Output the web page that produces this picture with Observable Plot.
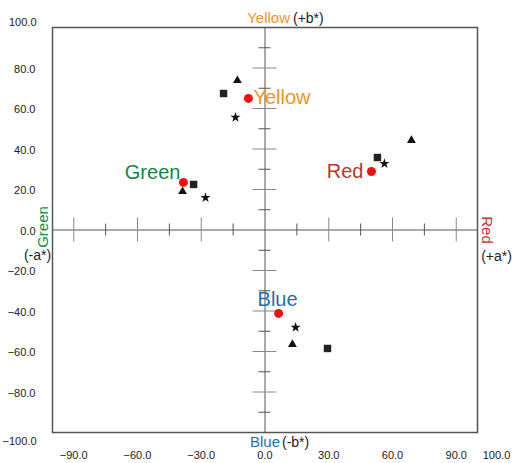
<!DOCTYPE html>
<html><head><meta charset="utf-8">
<script src="https://cdn.jsdelivr.net/npm/d3@7"></script>
<script src="https://cdn.jsdelivr.net/npm/@observablehq/plot@0.6"></script>
<style>body{margin:0;background:#fff}</style>
</head><body><div id="chart"></div>
<script>
const colorNames = ["Yellow", "Green", "Red", "Blue"];
const labelColors = ["#f7931e", "#0e8a44", "#c9302c", "#1b70b0"];
const circleA = [-7.8, -38.4, 50.1, 6.4];
const circleB = [65.0, 23.5, 28.9, -41.2];
const squareA = [-19.5, -33.6, 52.9, 29.4];
const squareB = [67.4, 22.5, 35.8, -58.5];
const triangleA = [-13.0, -38.8, 68.9, 12.9];
const triangleB = [73.8, 19.0, 44.2, -56.5];
const starA = [-13.9, -28.0, 56.2, 14.4];
const starB = [55.6, 16.0, 32.8, -48.1];
const xTickLabels = [-90, -60, -30, 0, 30, 60, 90];
const yTickLabels = [80, 60, 40, 20, 0, -20, -40, -60, -80];
const longTicksA = [-90, -60, -30, 30, 60, 90];
const shortTicksA = [-75, -45, -15, 15, 45, 75];
const longTicksB = [-80, -60, -40, -20, 20, 40, 60, 80];
const shortTicksB = [-90, -70, -50, -30, -10, 10, 30, 50, 70, 90];

const fmt = v => (v < 0 ? "\u2212" : "") + Math.abs(v).toFixed(1);
const idx = d3.range(colorNames.length);
const tickFont = 11;

const labelMark = (i, opts) => Plot.text([i], {
  x: j => circleA[j], y: j => circleB[j], text: j => colorNames[j],
  fill: labelColors[i], fontSize: 20, ...opts
});

const chart = Plot.plot({
  width: 513, height: 463,
  marginLeft: 52, marginRight: 36, marginTop: 27, marginBottom: 31,
  x: {domain: [-100, 100], axis: null},
  y: {domain: [-100, 100], axis: null},
  style: {fontFamily: "'Liberation Sans', Arial, sans-serif", background: "white", color: "#222"},
  marks: [
    Plot.ruleX([0], {stroke: "#555", strokeWidth: 1}),
    Plot.ruleY([0], {stroke: "#555", strokeWidth: 1}),
    Plot.ruleX(longTicksA, {x: d => d, y1: 0, y2: 0, insetTop: -12, insetBottom: -12, stroke: "#888"}),
    Plot.ruleX(shortTicksA, {x: d => d, y1: 0, y2: 0, insetTop: -6, insetBottom: -6, stroke: "#555"}),
    Plot.ruleY(longTicksB, {y: d => d, x1: 0, x2: 0, insetLeft: -12, insetRight: -12, stroke: "#888"}),
    Plot.ruleY(shortTicksB, {y: d => d, x1: 0, x2: 0, insetLeft: -6, insetRight: -6, stroke: "#555"}),
    Plot.frame({stroke: "#555", strokeWidth: 1.5}),
    Plot.dot(idx, {x: i => squareA[i], y: i => squareB[i], symbol: "square", r: 4.2, fill: "#222", stroke: "none"}),
    Plot.dot(idx, {x: i => triangleA[i], y: i => triangleB[i], symbol: "triangle", r: 3.3, fill: "#111", stroke: "none"}),
    Plot.dot(idx, {x: i => starA[i], y: i => starB[i], symbol: "star", r: 3.2, fill: "#111", stroke: "none"}),
    Plot.dot(idx, {x: i => circleA[i], y: i => circleB[i], symbol: "circle", r: 4.5, fill: "#f01010", stroke: "none"}),
    labelMark(0, {textAnchor: "start", dx: 5, dy: -1}),
    labelMark(1, {textAnchor: "end", dx: -3, dy: -10}),
    labelMark(2, {textAnchor: "end", dx: -8, dy: 0}),
    labelMark(3, {textAnchor: "middle", dx: -1, dy: -14}),
    // tick labels
    Plot.text(yTickLabels, {x: -100, y: d => d, text: fmt, textAnchor: "end", dx: -17, dy: 1, fontSize: tickFont}),
    Plot.text([100], {x: -100, y: d => d, text: fmt, textAnchor: "end", dx: -16, dy: -5, fontSize: tickFont}),
    Plot.text([-100], {x: -100, y: d => d, text: fmt, textAnchor: "end", dx: -16, dy: 9, fontSize: tickFont}),
    Plot.text(xTickLabels, {x: d => d, y: -100, text: fmt, dy: 23, fontSize: tickFont}),
    Plot.text([100], {x: d => d, y: -100, text: fmt, dx: 19, dy: 23, fontSize: tickFont}),
    // axis titles
    Plot.text([colorNames[0]], {x: 0, y: 100, text: d => d, textAnchor: "end", dx: 25, dy: -9, fill: labelColors[0], fontSize: 15}),
    Plot.text(["(+b*)"], {x: 0, y: 100, text: d => d, textAnchor: "start", dx: 28, dy: -9, fill: "#222", fontSize: 14}),
    Plot.text([colorNames[3]], {x: 0, y: -100, text: d => d, textAnchor: "end", dx: 15, dy: 10, fill: labelColors[3], fontSize: 15}),
    Plot.text(["(-b*)"], {x: 0, y: -100, text: d => d, textAnchor: "start", dx: 17, dy: 10, fill: "#222", fontSize: 14}),
    Plot.text([colorNames[1]], {x: -100, y: 0, text: d => d, rotate: -90, dx: -9, dy: -3, fill: labelColors[1], fontSize: 15}),
    Plot.text(["(-a*)"], {x: -100, y: 0, text: d => d, dx: -15, dy: 26, fill: "#222", fontSize: 14}),
    Plot.text([colorNames[2]], {x: 100, y: 0, text: d => d, rotate: 90, dx: 9, dy: 0, fill: labelColors[2], fontSize: 15}),
    Plot.text(["(+a*)"], {x: 100, y: 0, text: d => d, dx: 19, dy: 27, fill: "#222", fontSize: 14})
  ]
});
document.getElementById("chart").appendChild(chart);
</script>
</body></html>
